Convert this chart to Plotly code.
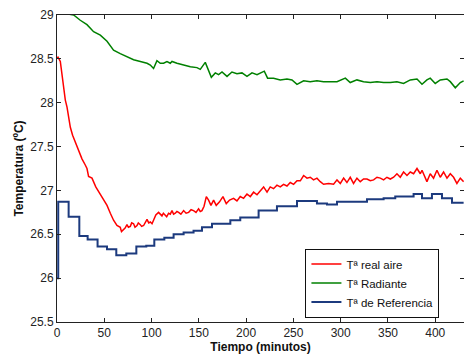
import plotly.graph_objects as go

# ---- data ----
red_x = [0, 1.06, 3.5, 5.3, 7.0, 8.8, 10.6, 12.3, 14.1, 16.5, 19.4, 22.2, 26.4, 29.9, 31.7, 33.4,
         37.0, 41.0, 45.8, 49.3, 52.9, 56.4, 59.8, 63.4, 66.9, 68.2, 69.8, 72.0, 74.0, 75.5, 77.5,
         79.0, 81.0, 82.5, 84.6, 86.0, 88.1, 89.5, 91.6, 93.5, 95.2, 97.0, 98.7, 100.5, 102.1,
         104.5, 107.4, 109.0, 111.0, 112.5, 114.5, 116.0, 118.0, 119.8, 121.6, 123.3, 125.1,
         126.8, 128.6, 131.0, 133.9, 136.5, 139.2, 141.8, 144.4, 147.0, 149.7, 151.5, 153.3,
         155.5, 157.9, 160.3, 162.8, 165.6, 168.4, 171.9, 175.5, 179.0, 182.5, 186.7, 190.3, 193.8,
         197.3, 200.9, 204.4, 207.9, 211.5, 215.0, 218.5, 222.1, 225.5, 229.0, 232.6, 236.1, 239.6,
         243.2, 246.7, 250.2, 253.8, 257.3, 260.8, 264.4, 267.8, 271.3, 274.9, 278.4, 281.9, 287.2,
         292.5, 296.1, 299.6, 303.1, 306.6, 310.1, 313.6, 317.2, 320.7, 324.2, 327.8, 331.3, 334.8,
         338.4, 341.9, 345.4, 348.9, 352.5, 356.0, 359.5, 363.0, 366.5, 370.1, 373.6, 377.1, 380.7,
         384.2, 386.0, 389.4, 391.2, 394.7, 398.2, 401.8, 405.3, 408.8, 412.4, 415.9, 419.4, 422.9,
         426.5, 430.0]
red_y = [28.51, 28.52, 28.47, 28.30, 28.14, 28.03, 27.95, 27.84, 27.72, 27.63, 27.55, 27.46, 27.36,
         27.29, 27.25, 27.16, 27.14, 27.04, 26.96, 26.89, 26.83, 26.74, 26.66, 26.60, 26.58, 26.53,
         26.55, 26.57, 26.61, 26.58, 26.59, 26.63, 26.62, 26.58, 26.60, 26.63, 26.61, 26.59, 26.60,
         26.64, 26.67, 26.63, 26.64, 26.62, 26.66, 26.72, 26.75, 26.73, 26.71, 26.74, 26.72, 26.70,
         26.74, 26.73, 26.77, 26.73, 26.74, 26.76, 26.75, 26.73, 26.77, 26.74, 26.75, 26.78, 26.77,
         26.75, 26.79, 26.76, 26.77, 26.82, 26.93, 26.89, 26.83, 26.89, 26.83, 26.87, 26.93, 26.85,
         26.89, 26.91, 26.88, 26.93, 26.91, 26.96, 26.93, 26.98, 26.95, 27.00, 27.04, 26.98, 27.04,
         27.02, 27.06, 27.04, 27.07, 27.05, 27.09, 27.07, 27.11, 27.11, 27.17, 27.14, 27.15, 27.12,
         27.14, 27.10, 27.07, 27.08, 27.07, 27.12, 27.08, 27.14, 27.09, 27.15, 27.08, 27.14, 27.10,
         27.13, 27.13, 27.11, 27.12, 27.15, 27.14, 27.12, 27.15, 27.13, 27.15, 27.19, 27.15, 27.21,
         27.17, 27.21, 27.19, 27.25, 27.19, 27.23, 27.14, 27.10, 27.19, 27.14, 27.23, 27.15, 27.21,
         27.14, 27.19, 27.15, 27.08, 27.14, 27.10]

green_x = [0, 6, 12.3, 17.6, 24.6, 31.7, 38.7, 45.8, 52.9, 59.8, 66.9, 74.0, 81.0, 88.1, 95.2, 98.7,
           102.1, 105.7, 109.2, 112.7, 116.3, 119.8, 121.6, 126.9, 133.9, 141.0, 148.0, 151.5,
           156.8, 160.3, 163.2, 167.4, 170.9, 174.5, 179.8, 185.0, 190.3, 195.6, 200.9, 206.2,
           211.5, 219.2, 222.7, 229.0, 236.1, 243.2, 248.5, 253.8, 260.8, 267.8, 274.9, 281.9,
           289.0, 296.1, 304.9, 310.1, 317.2, 324.2, 331.3, 338.4, 345.4, 352.5, 359.5, 366.5,
           373.6, 380.7, 386.0, 391.2, 394.7, 400.0, 405.3, 412.4, 415.9, 421.2, 426.5, 430.0]
green_y = [29.08, 29.04, 29.01, 29.00, 28.94, 28.89, 28.81, 28.77, 28.70, 28.60, 28.56, 28.52, 28.49,
           28.47, 28.45, 28.43, 28.39, 28.48, 28.45, 28.45, 28.47, 28.45, 28.47, 28.45, 28.43, 28.41,
           28.40, 28.38, 28.46, 28.37, 28.29, 28.34, 28.32, 28.35, 28.30, 28.35, 28.33, 28.34, 28.30,
           28.34, 28.32, 28.36, 28.28, 28.28, 28.26, 28.27, 28.26, 28.21, 28.25, 28.24, 28.25, 28.24,
           28.24, 28.24, 28.28, 28.23, 28.26, 28.24, 28.23, 28.24, 28.23, 28.23, 28.24, 28.22, 28.26,
           28.27, 28.21, 28.26, 28.28, 28.22, 28.26, 28.27, 28.24, 28.17, 28.23, 28.25]

blue_x = [0, 1.3, 12.3, 23.6, 32.4, 42.9, 52.9, 62.7, 73.3, 83.9, 94.4, 102.9, 113.5, 123.3, 133.9,
          144.4, 153.3, 163.9, 183.3, 193.8, 213.2, 232.6, 253.8, 274.9, 285.5, 296.1, 327.8, 345.4,
          357.7, 377.1, 386.0, 396.5, 407.1, 417.7, 430.0]
blue_y = [26.00, 26.87, 26.70, 26.48, 26.44, 26.36, 26.33, 26.26, 26.28, 26.36, 26.37, 26.44, 26.46,
          26.50, 26.52, 26.54, 26.58, 26.62, 26.66, 26.69, 26.77, 26.82, 26.88, 26.85, 26.84, 26.87,
          26.90, 26.91, 26.93, 26.96, 26.91, 26.96, 26.91, 26.86, 26.86]

x_ticks = [0, 50, 100, 150, 200, 250, 300, 350, 400]
y_ticks = [25.5, 26, 26.5, 27, 27.5, 28, 28.5, 29]

FONT = "Liberation Sans, Arial, sans-serif"

fig = go.Figure()
fig.add_trace(go.Scatter(x=red_x, y=red_y, mode="lines", name="Tª real aire",
                         line=dict(color="#ff0000", width=1.5)))
fig.add_trace(go.Scatter(x=green_x, y=green_y, mode="lines", name="Tª Radiante",
                         line=dict(color="#008000", width=1.5)))
fig.add_trace(go.Scatter(x=blue_x, y=blue_y, mode="lines", name="Tª de Referencia",
                         line=dict(color="#1c3a7e", width=2, shape="hv")))

axis_common = dict(showgrid=False, zeroline=False, showline=True, linecolor="#222222",
                   linewidth=1, mirror="ticks", ticks="inside", ticklen=4, tickcolor="#222222",
                   tickfont=dict(family=FONT, size=12, color="#222222"))

fig.update_layout(
    width=464, height=358,
    margin=dict(l=57, r=0, t=15, b=36),
    paper_bgcolor="white", plot_bgcolor="white",
    font=dict(family=FONT, size=12, color="#111111"),
    xaxis=dict(range=[0, 430.4], tickvals=x_ticks,
               title=dict(text="<b>Tiempo (minutos)</b>", font=dict(family=FONT, size=12), standoff=2),
               **axis_common),
    yaxis=dict(range=[25.5, 29], tickvals=y_ticks,
               title=dict(text="<b>Temperatura (ºC)</b>", font=dict(family=FONT, size=12), standoff=4),
               **axis_common),
    legend=dict(x=0.775, y=0.127, xanchor="center", yanchor="middle",
                bgcolor="white", bordercolor="#111111", borderwidth=1,
                font=dict(family=FONT, size=11.5), tracegroupgap=0, itemwidth=30),
    showlegend=True,
)

fig.write_html("out.html")
